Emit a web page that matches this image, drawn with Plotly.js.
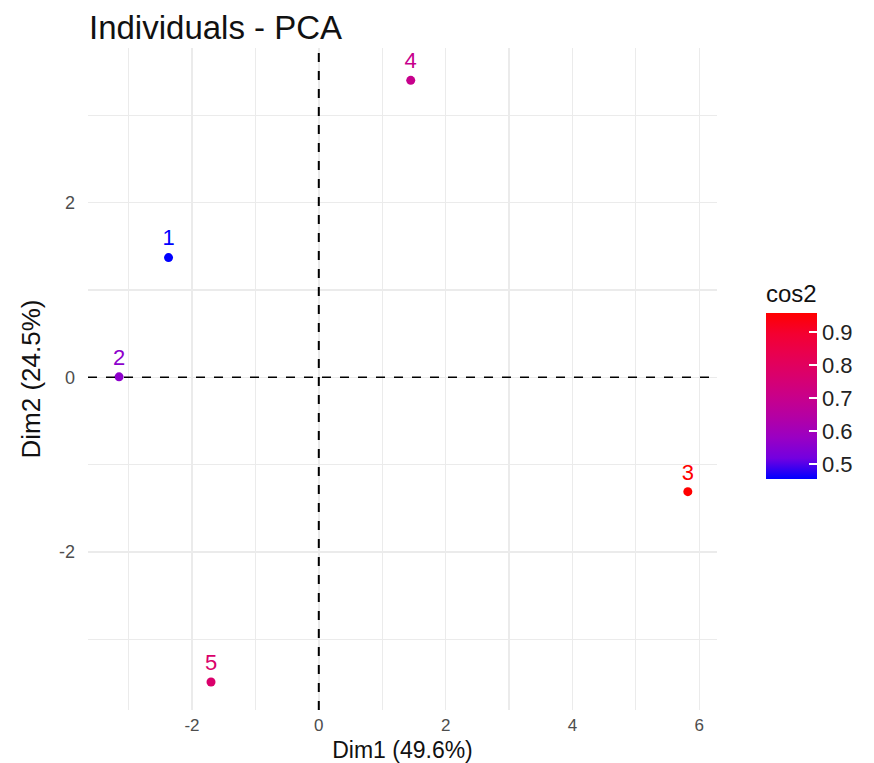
<!DOCTYPE html>
<html>
<head>
<meta charset="utf-8">
<script src="https://cdn.plot.ly/plotly-3.0.1.min.js"></script>
<style>html,body{margin:0;padding:0;background:#fff;}#chart{width:874px;height:763px;}</style>
</head>
<body>
<div id="chart"></div>
<script>
// Data
const individuals = ["1", "2", "3", "4", "5"];
const dim1 = [-2.37, -3.15, 5.82, 1.45, -1.70];
const dim2 = [1.37, 0.005, -1.31, 3.40, -3.49];
const cos2 = [0.455, 0.56, 0.957, 0.70, 0.77];
const xTicks = [-2, 0, 2, 4, 6];
const yTicks = [-2, 0, 2];
const cbTicks = [0.5, 0.6, 0.7, 0.8, 0.9];

// Lab-like blue->red gradient stops (as in ggplot scale_color_gradient)
const gradStops = [
  [0, "#0000FF"], [0.125, "#7300E0"], [0.25, "#9A00C3"], [0.375, "#B400A4"],
  [0.5, "#C90089"], [0.625, "#DA006C"], [0.75, "#E80050"], [0.875, "#F40031"], [1, "#FF0000"]
];
const cmin = Math.min(...cos2), cmax = Math.max(...cos2);
function hex2rgb(h){return [parseInt(h.slice(1,3),16),parseInt(h.slice(3,5),16),parseInt(h.slice(5,7),16)];}
function colorFor(v){
  const t = (v - cmin) / (cmax - cmin);
  for (let i = 1; i < gradStops.length; i++) {
    if (t <= gradStops[i][0]) {
      const a = gradStops[i-1], b = gradStops[i];
      const f = (t - a[0]) / (b[0] - a[0]);
      const ca = hex2rgb(a[1]), cb = hex2rgb(b[1]);
      const c = ca.map((x, k) => Math.round(x + (cb[k] - x) * f));
      return "rgb(" + c.join(",") + ")";
    }
  }
  return gradStops[gradStops.length-1][1];
}
const textColors = cos2.map(colorFor);

const font = "Liberation Sans, Arial, sans-serif";

const trace = {
  type: "scatter",
  mode: "markers+text",
  x: dim1, y: dim2,
  text: individuals,
  textposition: "top center",
  textfont: {family: font, size: 22, color: textColors},
  marker: {
    size: 9,
    color: cos2,
    colorscale: gradStops,
    cmin: cmin, cmax: cmax,
    showscale: true,
    colorbar: {
      title: {text: "cos2", font: {family: font, size: 24, color: "#111"}, side: "top"},
      tickvals: cbTicks,
      ticktext: cbTicks.map(v => v.toFixed(1)),
      ticks: "inside",
      ticklen: 8,
      tickcolor: "#fff",
      tickwidth: 1.5,
      tickfont: {family: font, size: 22, color: "#222"},
      thickness: 51,
      thicknessmode: "pixels",
      len: 198,
      lenmode: "pixels",
      x: (766 - 88) / 629,
      xref: "paper",
      xanchor: "left",
      xpad: 0,
      y: (710 - 313) / 662 + 32 / 662,
      yanchor: "top",
      ypad: 0,
      outlinewidth: 0,
      bgcolor: "rgba(0,0,0,0)"
    }
  },
  cliponaxis: false,
  hoverinfo: "none",
  showlegend: false
};

const gridColor = "#EBEBEB";
const layout = {
  width: 874, height: 763,
  margin: {l: 88, r: 157, t: 48, b: 53},
  paper_bgcolor: "#fff", plot_bgcolor: "#fff",
  title: {text: "Individuals - PCA", font: {family: font, size: 33, color: "#111"},
          x: 89/874, xanchor: "left", xref: "container", y: 1 - 27/763, yanchor: "middle"},
  xaxis: {
    range: [-3.64, 6.28],
    tickvals: xTicks, ticktext: xTicks.map(String),
    showgrid: true, gridcolor: gridColor, gridwidth: 1.5,
    minor: {dtick: 1, tick0: 0, showgrid: true, gridcolor: gridColor, gridwidth: 1.2},
    zeroline: false, showline: false, ticks: "",
    ticklabelstandoff: 3,
    tickfont: {family: font, size: 17, color: "#4D4D4D"},
    title: {text: "Dim1 (49.6%)", font: {family: font, size: 23, color: "#111"}, standoff: 7}
  },
  yaxis: {
    range: [-3.81, 3.77],
    tickvals: yTicks, ticktext: yTicks.map(String),
    showgrid: true, gridcolor: gridColor, gridwidth: 1.5,
    minor: {dtick: 1, tick0: 0, showgrid: true, gridcolor: gridColor, gridwidth: 1.2},
    zeroline: false, showline: false, ticks: "",
    ticklabelstandoff: 12,
    tickfont: {family: font, size: 18, color: "#4D4D4D"},
    title: {text: "Dim2 (24.5%)", font: {family: font, size: 26, color: "#111"}, standoff: 10}
  },
  shapes: [
    {type: "line", xref: "x", yref: "paper", x0: 0, x1: 0, y0: 0, y1: 1,
     line: {color: "#000", width: 2, dash: "dash"}, layer: "above"},
    {type: "line", xref: "paper", yref: "y", x0: 0, x1: 1, y0: 0, y1: 0,
     line: {color: "#000", width: 1.3, dash: "dash"}, layer: "above"}
  ]
};

Plotly.newPlot("chart", [trace], layout, {displayModeBar: false, staticPlot: true});
</script>
</body>
</html>
